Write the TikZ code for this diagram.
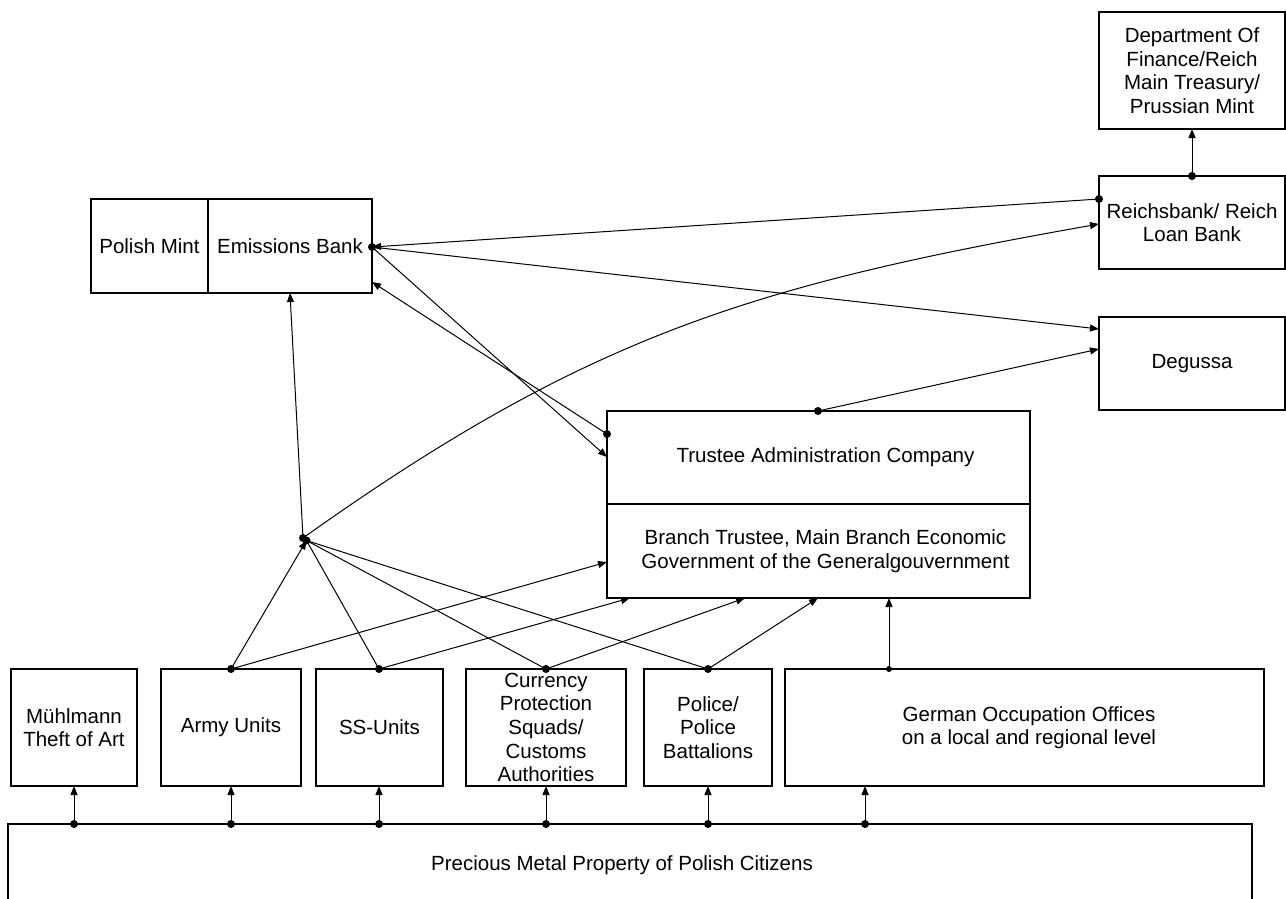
\documentclass[tikz,border=0pt]{standalone}
\usepackage{fontspec}
\setmainfont{Liberation Sans}
\usetikzlibrary{arrows.meta}
\begin{document}
\begin{tikzpicture}[x=1pt,y=-1pt,
  box/.style={draw=black, line width=1.1pt, inner sep=0pt, outer sep=0pt, align=center,
              font=\fontsize{20.5}{23.6}\selectfont},
  conn/.style={line width=1pt, -{Triangle[length=9pt,width=7pt]}},
  plainline/.style={line width=1pt},
  dotmark/.style={fill=black}]
\path[use as bounding box, clip] (0,0) rectangle (1286,898);
\fill[white] (0,0) rectangle (1286,898);

% upper boxes
\node[box, minimum width=117pt, minimum height=94pt] (pm) at (149.5,246) {Polish Mint};
\node[box, minimum width=164pt, minimum height=94pt] (em) at (290,246) {Emissions Bank};
\node[box, minimum width=186pt, minimum height=117pt] (df) at (1192,70.5) {Department Of\\Finance/Reich\\Main Treasury/\\Prussian Mint};
\node[box, minimum width=186pt, minimum height=93pt] (rb) at (1192,222.5) {Reichsbank/ Reich\\Loan Bank};
\node[box, minimum width=186pt, minimum height=93pt] (dg) at (1192,363.5) {Degussa};
\node[box, minimum width=423pt, minimum height=93pt] (ta) at (818.5,457.5) {\hspace*{14pt}Trustee Administration Company};
\node[box, minimum width=423pt, minimum height=94pt] (bt) at (818.5,551) {\hspace*{14pt}Branch Trustee, Main Branch Economic\\\hspace*{14pt}Government of the Generalgouvernment};

% bottom row
\node[box, minimum width=126pt, minimum height=117pt] (mu) at (74,727.5) {Mühlmann\\Theft of Art};
\node[box, minimum width=140pt, minimum height=117pt] (ar) at (231,727.5) {Army Units};
\node[box, minimum width=127pt, minimum height=117pt] (ss) at (379.5,727.5) {SS-Units};
\node[box, minimum width=160pt, minimum height=117pt] (cu) at (546,727.5) {Currency\\Protection\\Squads/\\Customs\\Authorities};
\node[box, minimum width=128pt, minimum height=117pt] (po) at (708,727.5) {Police/\\Police\\Battalions};
\node[box, minimum width=479pt, minimum height=117pt] (go) at (1024.5,727.5) {\hspace*{9pt}German Occupation Offices\\\hspace*{9pt}on a local and regional level};
\node[box, minimum width=1244pt, minimum height=86pt] (pr) at (630,867) {\hspace*{-16pt}\raisebox{7pt}{Precious Metal Property of Polish Citizens}};

% connector end points
\coordinate (emR) at (372,247);
\coordinate (emR2) at (372,282);
\coordinate (emB) at (290,293);
\coordinate (rbL) at (1099,199);
\coordinate (rbL2) at (1099,224);
\coordinate (rbT) at (1192,176);
\coordinate (dfB) at (1192,129);
\coordinate (dgL) at (1099,329);
\coordinate (dgL2) at (1099,349);
\coordinate (taL) at (607,434);
\coordinate (taL2) at (607,457);
\coordinate (taT) at (818,411);
\coordinate (btL) at (607,562);
\coordinate (btB1) at (630,598);
\coordinate (btB2) at (745,598);
\coordinate (btB3) at (818,598);
\coordinate (btB4) at (889,598);
\coordinate (hub) at (303,538);
\coordinate (hub2) at (306.5,540.5);
\coordinate (arT) at (231,669);
\coordinate (ssT) at (379,669);
\coordinate (cuT) at (546,669);
\coordinate (poT) at (708,669);
\coordinate (goT) at (889,669);
\coordinate (muB) at (74,786);
\coordinate (arB) at (231,786);
\coordinate (ssB) at (379,786);
\coordinate (cuB) at (546,786);
\coordinate (poB) at (708,786);
\coordinate (goB) at (865,786);
\coordinate (pr1) at (74,824);
\coordinate (pr2) at (231,824);
\coordinate (pr3) at (379,824);
\coordinate (pr4) at (546,824);
\coordinate (pr5) at (708,824);
\coordinate (pr6) at (865,824);

% connectors
\draw[conn] (rbL) -- (emR);
\draw[conn] (emR) -- (dgL);
\draw[conn] (emR) -- (taL2);
\draw[conn] (taL) -- (emR2);
\draw[conn] (hub) .. controls (588,335) and (754,285) .. (rbL2);
\draw[conn] (taT) -- (dgL2);
\draw[conn] (rbT) -- (dfB);
\draw[conn] (hub) -- (emB);
\draw[conn] (arT) -- (hub2);
\draw[plainline] (ssT) -- (hub2);
\draw[plainline] (cuT) -- (hub2);
\draw[plainline] (poT) -- (hub2);
\draw[conn] (arT) -- (btL);
\draw[conn] (ssT) -- (btB1);
\draw[conn] (cuT) -- (btB2);
\draw[conn] (poT) -- (btB3);
\draw[conn] (goT) -- (btB4);
\draw[conn] (pr1) -- (muB);
\draw[conn] (pr2) -- (arB);
\draw[conn] (pr3) -- (ssB);
\draw[conn] (pr4) -- (cuB);
\draw[conn] (pr5) -- (poB);
\draw[conn] (pr6) -- (goB);

% dots
\foreach \p in {rbL,emR,taL,taT,rbT,hub,hub2,arT,ssT,cuT,poT,pr1,pr2,pr3,pr4,pr5,pr6}
  \fill[dotmark] (\p) circle (4pt);
\fill[dotmark] (goT) circle (3pt);
\end{tikzpicture}
\end{document}
